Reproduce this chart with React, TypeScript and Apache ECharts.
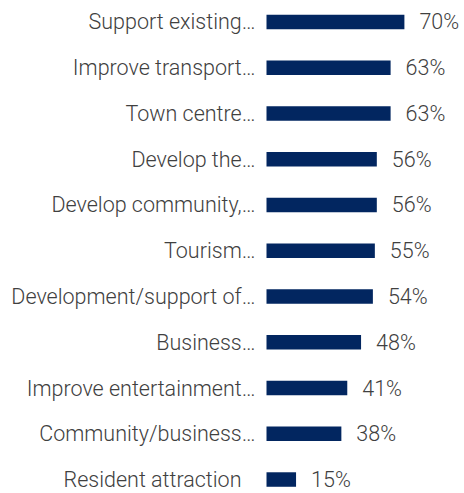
import React, { useEffect, useRef } from "react";
import * as echarts from "echarts";

// Categories listed top to bottom
const categories = [
  "Support existing…",
  "Improve transport…",
  "Town centre…",
  "Develop the…",
  "Develop community,…",
  "Tourism…",
  "Development/support of…",
  "Business…",
  "Improve entertainment…",
  "Community/business…",
  "Resident attraction",
];

// Share of respondents (%)
const values = [70, 63, 63, 56, 56, 55, 54, 48, 41, 38, 15];

export default function App() {
  const ref = useRef<HTMLDivElement>(null);

  useEffect(() => {
    if (!ref.current) return;
    const chart = echarts.init(ref.current, null, { renderer: "svg" });
    const font = "Roboto";
    chart.setOption({
      animation: false,
      grid: {
        left: 266.5,
        width: 197,
        top: -0.9,
        height: 503.3,
        containLabel: false,
        outerBoundsMode: "none",
      },
      xAxis: {
        type: "value",
        min: 0,
        max: 100,
        show: false,
      },
      yAxis: {
        type: "category",
        inverse: true,
        // the untruncated label sits a little further from its bar
        data: categories.map((name) =>
          name.endsWith("…") ? name : { value: name, textStyle: { padding: [0, 14, 0, 0] } }
        ),
        axisLine: { show: false },
        axisTick: { show: false },
        splitLine: { show: false },
        axisLabel: {
          margin: 11,
          color: "#404040",
          fontFamily: font,
          fontWeight: 300,
          fontSize: 21.5,
        },
      },
      series: [
        {
          type: "bar",
          data: values,
          barWidth: 14.5,
          itemStyle: { color: "#022660" },
          label: {
            show: true,
            position: "right",
            distance: 15,
            formatter: "{c}%",
            color: "#404040",
            fontFamily: font,
            fontWeight: 300,
            fontSize: 21.5,
          },
        },
      ],
    });
    return () => chart.dispose();
  }, []);

  return (
    <div
      ref={ref}
      style={{ position: "absolute", left: 0, top: 0, width: 464, height: 493, background: "#fff" }}
    />
  );
}
